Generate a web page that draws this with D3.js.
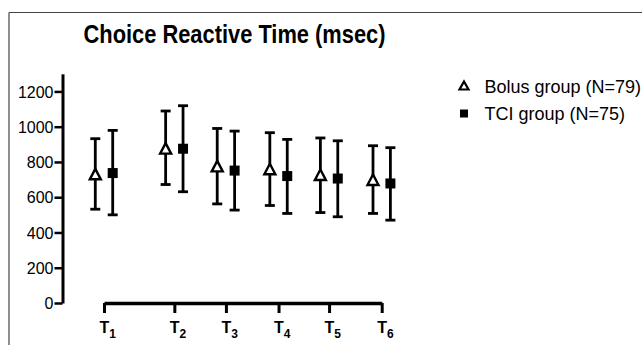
<!DOCTYPE html>
<html>
<head>
<meta charset="utf-8">
<script src="https://cdn.jsdelivr.net/npm/d3@7"></script>
<style>
  html, body { margin: 0; padding: 0; background: #fff; }
  svg { display: block; font-family: "Liberation Sans", Arial, sans-serif; }
</style>
</head>
<body>
<svg id="chart" width="642" height="345"></svg>
<script>
// ---- data ----
const categories = ["1", "2", "3", "4", "5", "6"];          // T subscripts
const timePoints = [0, 1.35, 2.34, 3.35, 4.32, 5.33];      // relative spacing of time points
const bolusMean  = [727, 873, 772, 756, 723, 695];
const bolusUpper = [932, 1089, 990, 966, 936, 892];
const bolusLower = [532, 672, 562, 553, 513, 508];
const tciMean    = [737, 875, 751, 720, 706, 678];
const tciUpper   = [979, 1119, 975, 928, 920, 881];
const tciLower   = [500, 631, 527, 508, 489, 470];
const yTicks     = [0, 200, 400, 600, 800, 1000, 1200];
const seriesNames = ["Bolus group (N=79)", "TCI group (N=75)"];
const titleText = "Choice Reactive Time (msec)";

// ---- layout ----
const svg = d3.select("#chart");
const yAxisX = 62.5;
const y = d3.scaleLinear().domain([0, 1300]).range([303, 73.8]);
const x = d3.scaleLinear().domain([0, 5.33]).range([104, 381.7]);
const dodge = 8.7;

// frame (only top and left edges are visible)
svg.append("line").attr("x1", 9).attr("x2", 642).attr("y1", 12.5).attr("y2", 12.5)
  .attr("stroke", "#444").attr("stroke-width", 1.2);
svg.append("line").attr("x1", 9).attr("x2", 9).attr("y1", 12.5).attr("y2", 345)
  .attr("stroke", "#444").attr("stroke-width", 1.2);

// title
svg.append("text").attr("x", 83.5).attr("y", 43)
  .style("font-size", "25px").attr("font-weight", "bold")
  .attr("textLength", 302).attr("lengthAdjust", "spacingAndGlyphs")
  .attr("fill", "#000").text(titleText);

// y axis
const yAxis = svg.append("g").attr("transform", `translate(${yAxisX},0)`)
  .call(d3.axisLeft(y).tickValues(yTicks).tickFormat(d3.format("d")).tickSize(8).tickPadding(1).tickSizeOuter(0));
yAxis.attr("font-family", null).attr("font-size", null);
yAxis.select(".domain").attr("stroke", "#000").attr("stroke-width", 3);
yAxis.selectAll(".tick line").attr("stroke", "#000").attr("stroke-width", 2.5);
yAxis.selectAll(".tick text").style("font-size", "16px").attr("fill", "#000").attr("dy", "0.36em");

// x axis
const xAxis = svg.append("g").attr("transform", `translate(0,303)`)
  .call(d3.axisBottom(x).tickValues(timePoints).tickSize(10).tickSizeOuter(0).tickFormat(""));
xAxis.attr("font-family", null).attr("font-size", null);
xAxis.select(".domain").attr("stroke", "#000").attr("stroke-width", 3.5);
xAxis.selectAll(".tick line").attr("stroke", "#000").attr("stroke-width", 3);
xAxis.selectAll(".tick").each(function (d, i) {
  const t = d3.select(this).select("text");
  t.text(null).attr("y", 30).attr("dy", null).attr("x", -5)
    .attr("text-anchor", "start").attr("fill", "#000").attr("font-weight", "bold");
  t.append("tspan").style("font-size", "16px").text("T");
  t.append("tspan").style("font-size", "12px").attr("dy", 5).text(categories[i]);
});

// error bars with markers
function drawSeries(means, upper, lower, offset, kind) {
  const g = svg.append("g");
  const capW = 5;
  means.forEach((m, i) => {
    const cx = x(timePoints[i]) + offset;
    g.append("line").attr("x1", cx).attr("x2", cx).attr("y1", y(upper[i])).attr("y2", y(lower[i]))
      .attr("stroke", "#000").attr("stroke-width", 2.8);
    [upper[i], lower[i]].forEach(v => {
      g.append("line").attr("x1", cx - capW).attr("x2", cx + capW).attr("y1", y(v)).attr("y2", y(v))
        .attr("stroke", "#000").attr("stroke-width", 2.8);
    });
    const cy = y(m);
    if (kind === "tri") {
      g.append("path").attr("d", `M${cx},${cy - 6} L${cx + 5.5},${cy + 4.5} L${cx - 5.5},${cy + 4.5} Z`)
        .attr("fill", "#fff").attr("stroke", "#000").attr("stroke-width", 2.4);
    } else {
      g.append("rect").attr("x", cx - 5).attr("y", cy - 5).attr("width", 10).attr("height", 10).attr("fill", "#000");
    }
  });
}
drawSeries(bolusMean, bolusUpper, bolusLower, -dodge, "tri");
drawSeries(tciMean, tciUpper, tciLower, dodge, "sq");

// legend
const lg = svg.append("g");
const lx = 464, ly0 = 86, ldy = 27.5;
lg.append("path").attr("d", `M${lx},${ly0 - 4.5} L${lx + 4.5},${ly0 + 3.5} L${lx - 4.5},${ly0 + 3.5} Z`)
  .attr("fill", "#fff").attr("stroke", "#000").attr("stroke-width", 2.2);
lg.append("rect").attr("x", lx - 4).attr("y", ly0 + ldy - 4).attr("width", 8).attr("height", 8).attr("fill", "#000");
seriesNames.forEach((s, i) => {
  lg.append("text").attr("x", 484.5).attr("y", ly0 + i * ldy + 6.5)
    .style("font-size", "18px").attr("fill", "#000").text(s);
});
</script>
</body>
</html>
